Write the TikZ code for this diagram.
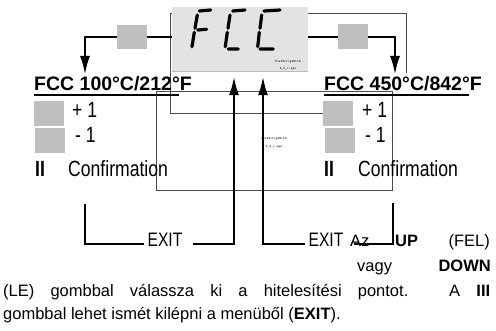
\documentclass[tikz,border=0pt]{standalone}
\usepackage{fontspec}
\setmainfont{Liberation Sans}
\newfontfamily\narrowfont{Liberation Sans}[FakeStretch=0.8]
\usetikzlibrary{arrows.meta}
\definecolor{keygray}{gray}{0.75}
\definecolor{lcdgray}{gray}{0.89}
\tikzset{
  frame/.style={draw=black!70, line width=0.9pt},
  keybox/.style={fill=keygray, minimum width=30pt, minimum height=25pt, inner sep=0pt},
  flow/.style={line width=2.6pt},
  flowarrow/.style={flow, -{Latex[length=19pt,width=10pt]}},
  seg/.style={line width=3.2pt, line cap=round},
  heading/.style={font=\bfseries\fontsize{19.5}{22}\selectfont, inner sep=0pt, anchor=base west},
  lbl/.style={font=\narrowfont\fontsize{22}{24}\selectfont, inner sep=0pt, anchor=base west},
  exitlbl/.style={font=\narrowfont\fontsize{19.5}{22}\selectfont, inner sep=3pt, anchor=mid},
  body/.style={font=\fontsize{16.5}{23}\selectfont, inner sep=0pt},
  eps/.style={font=\ttfamily\fontsize{3.4}{4}\selectfont, inner sep=0pt},
  uline/.style={line width=1.4pt}
}
\begin{document}
\begin{tikzpicture}[x=1pt, y=-1pt]
\useasboundingbox (0,0) rectangle (496,331);
\draw[frame] (323,113) -- (170,113) -- (170,13) -- (406,13) -- (406,73);
\node[fill=lcdgray, minimum width=136pt, minimum height=64pt, inner sep=0pt] (disp) at (240,39) {};
\draw[black!28, line width=1.2pt] (disp.south west) -- (disp.south east);
\node[eps] (epsA) at (288,62) {PostScriptBild};
\node[eps] (epsAfile) at (288,69) {4\_2\_1.eps};
\draw[seg] (199.3,11) -- (210.7,10) (197.3,15) -- (195,28.3) (194.3,32.3) -- (192,46.7) (197.7,30) -- (206.7,29.3);
\draw[seg] (232.7,11) -- (245,10) (230,15) -- (228,28.3) (227.3,32.3) -- (225.3,46.7) (228.3,49) -- (238.3,49);
\draw[seg] (264,11) -- (280,10) (261.7,15) -- (260,28.3) (259.3,32.3) -- (257.7,46.7) (260,49) -- (273.3,49);
\draw[frame] (156,91) rectangle (392,190);
\node[eps] (epsB) at (274,139) {PostScriptBild};
\node[eps] (epsBfile) at (274,147) {4\_2\_1.eps};

\node[heading] (fccL) at (34,91) {FCC 100°C/212°F};
\draw[uline] ([yshift=-4pt]fccL.base west) -- ++(145,0);
\node[keybox] (plusKeyL) at (49,114) {}; \node[keybox] (minusKeyL) at (50,141) {};
\node[lbl] (plusL) at (72,118) {+ 1}; \node[lbl] (minusL) at (75,142.7) {- 1};
\node[lbl, font=\narrowfont\bfseries\fontsize{22}{24}\selectfont] (okKeyL) at (35,177) {II};
\node[lbl] (okL) at (68,177) {Confirmation};

\node[heading] (fccR) at (324,91) {FCC 450°C/842°F};
\draw[uline] ([yshift=-4pt]fccR.base west) -- ++(145,0);
\node[keybox] (plusKeyR) at (338,114) {}; \node[keybox] (minusKeyR) at (340,141) {};
\node[lbl] (plusR) at (362,118) {+ 1}; \node[lbl] (minusR) at (365,142.7) {- 1};
\node[lbl, font=\narrowfont\bfseries\fontsize{22}{24}\selectfont] (okKeyR) at (324,177) {II};
\node[lbl] (okR) at (358,177) {Confirmation};

\coordinate (tipL) at (85,75); \coordinate (tipR) at (395,75);
\draw[flowarrow] ([yshift=2pt]disp.west) -| (tipL);
\draw[flowarrow] ([yshift=2pt]disp.east) -| (tipR);
\node[keybox, minimum height=24pt] (keyL) at (132,37.5) {};
\node[keybox] (keyR) at (353,36.5) {};

\node[exitlbl] (exitL) at (165,244) {EXIT};
\node[exitlbl] (exitR) at (326,244) {EXIT};
\coordinate (endL) at (85,204); \coordinate (endR) at (393,203);
\draw[flow] (endL) |- (exitL.mid west);
\draw[flowarrow, shorten >=5pt] ([xshift=7pt]exitL.mid east) -| ([xshift=-6pt]disp.south);
\draw[flowarrow, shorten >=5pt] (exitR.mid west) -| ([xshift=23pt]disp.south);

\node[body, anchor=base west] (az) at (350,247) {Az};
\node[body, anchor=base west] (up) at (395,247) {\bfseries UP};
\node[body, anchor=base east] (fel) at (490,247) {(FEL)};
\node[body, anchor=base west] (vagy) at (357,272) {vagy};
\node[body, anchor=base east] (down) at (491,272) {\bfseries DOWN};
\draw[flow] ([xshift=7pt]exitR.mid east) -| (endR);
\node[body, anchor=base west, text width=487pt, align=justify] (para) at (3,297) {(LE) gombbal válassza ki a hitelesítési pontot. A \textbf{III}\linebreak gombbal lehet ismét kilépni a menüből (\textbf{EXIT}).};
\end{tikzpicture}
\end{document}
